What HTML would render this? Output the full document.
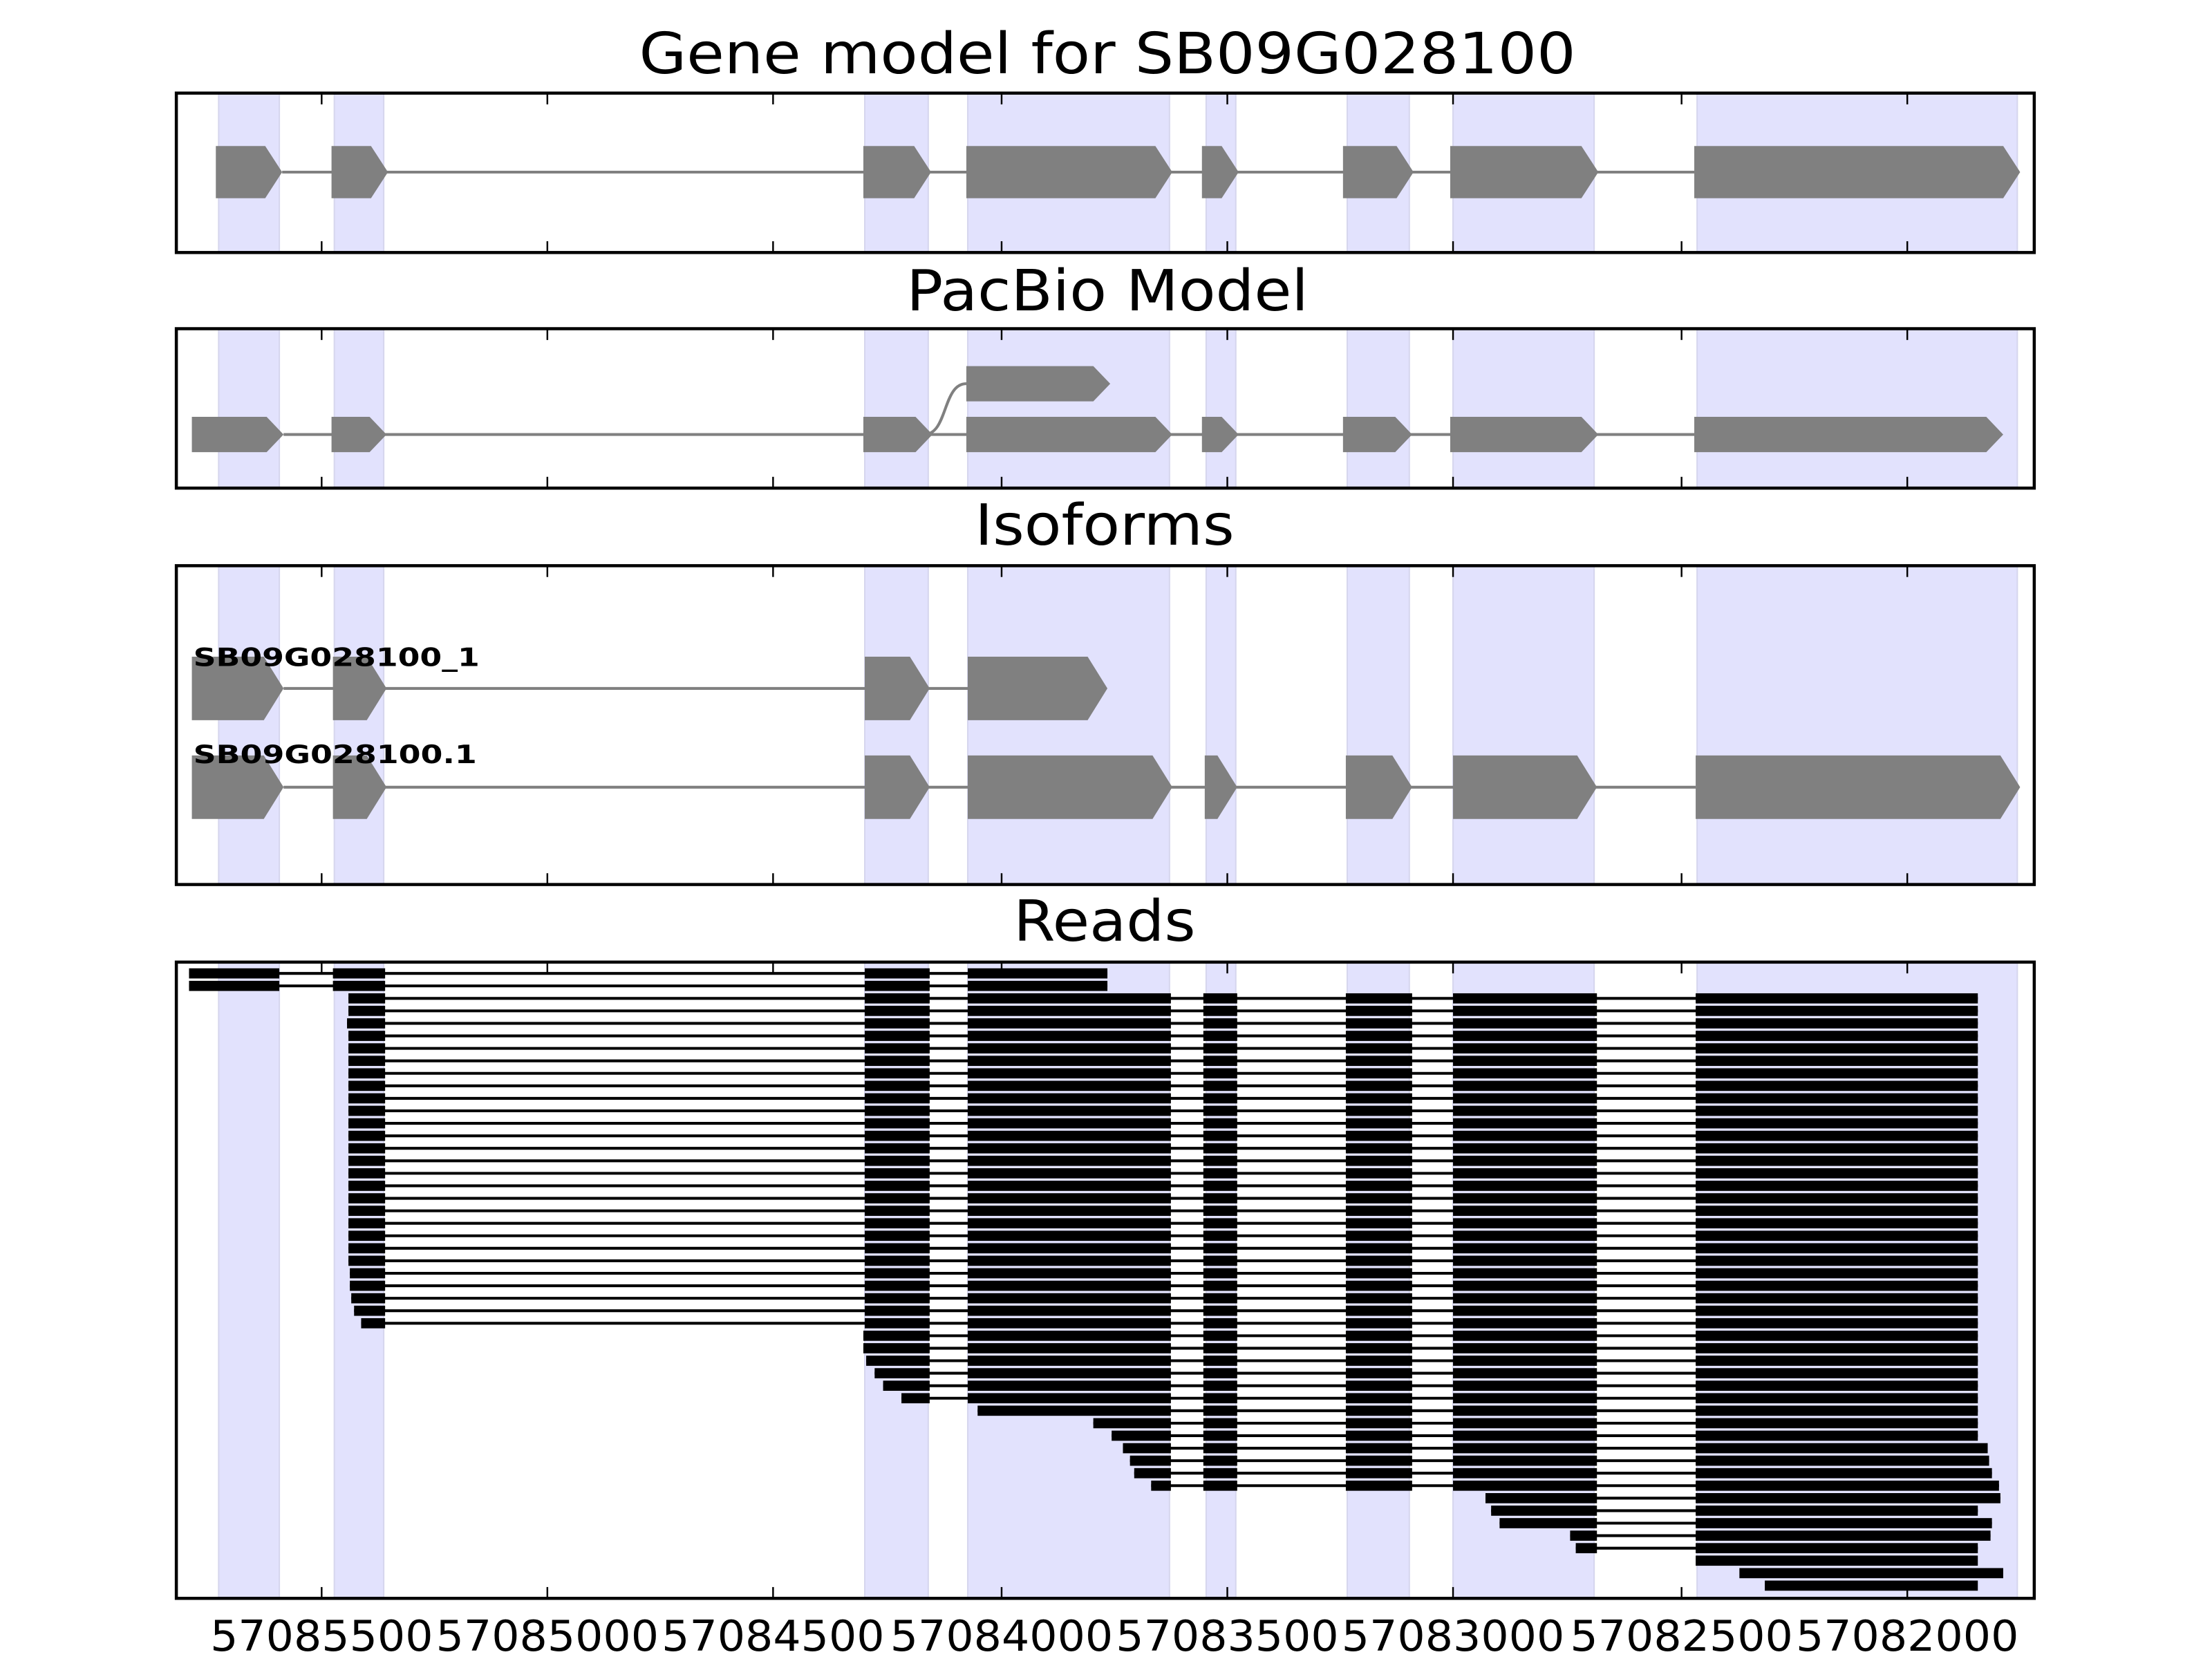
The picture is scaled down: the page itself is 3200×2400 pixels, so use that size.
<!DOCTYPE html>
<html><head><meta charset="utf-8">
<style>html,body{margin:0;padding:0;background:#fff;}svg{display:block;}</style>
</head><body>
<svg id="s" xmlns="http://www.w3.org/2000/svg" width="3200" height="2400" viewBox="0 0 1568 1176" font-family="'DejaVu Sans','Liberation Sans',sans-serif">
<rect width="1568" height="1176" fill="#fff"/>
<g id="g"></g>
<text x="785" y="52" font-size="40" text-anchor="middle" textLength="664" lengthAdjust="spacingAndGlyphs">Gene model for SB09G028100</text>
<text x="785" y="220" font-size="40" text-anchor="middle" textLength="285" lengthAdjust="spacingAndGlyphs">PacBio Model</text>
<text x="783" y="386" font-size="40" text-anchor="middle" textLength="184" lengthAdjust="spacingAndGlyphs">Isoforms</text>
<text x="783" y="667" font-size="40" text-anchor="middle" textLength="129" lengthAdjust="spacingAndGlyphs">Reads</text>
<text x="137" y="472" font-size="18" font-weight="bold" textLength="203" lengthAdjust="spacingAndGlyphs">SB09G028100_1</text>
<text x="137" y="541" font-size="18" font-weight="bold" textLength="201" lengthAdjust="spacingAndGlyphs">SB09G028100.1</text>
</svg>
<script>
var g=document.getElementById('g');var NS='http://www.w3.org/2000/svg';
function el(t,a){var e=document.createElementNS(NS,t);for(var k in a)e.setAttribute(k,a[k]);g.appendChild(e);return e;}
var panels=[[66,179],[233,346],[401,627],[682,1133]];
var bands=[[155,198],[237,272],[613,658],[686,829],[855,876],[955,999],[1030,1130],[1203,1430]];
var ticks=[228,388,548,710,870,1030,1192,1352];
var labels=['57085500','57085000','57084500','57084000','57083500','57083000','57082500','57082000'];
panels.forEach(function(p){
  bands.forEach(function(b){el('rect',{x:b[0],y:p[0],width:b[1]-b[0],height:p[1]-p[0],fill:'#e2e2fd',stroke:'#d6d6ee','stroke-width':1});});
});
function arrow(x1,x2,cy,h,pt){var t=cy-h/2,b=cy+h/2;el('polygon',{points:x1+','+t+' '+(x2-pt)+','+t+' '+x2+','+cy+' '+(x2-pt)+','+b+' '+x1+','+b,fill:'#808080'});}
function model(ex,cy,h,pt){el('line',{x1:ex[0][1],y1:cy,x2:ex[ex.length-1][0],y2:cy,stroke:'#808080','stroke-width':2});ex.forEach(function(e){arrow(e[0],e[1],cy,h,pt);});}
model([[153,200],[235,275],[612,660],[685,831],[852,878],[952,1002],[1028,1133],[1201,1432]],122,37,12);
model([[136,201],[235,274],[612,661],[685,831],[852,878],[952,1001],[1028,1133],[1201,1420]],308,25,12);
el('path',{d:'M655,308 C672,308 668,272 685,272',fill:'none',stroke:'#808080','stroke-width':2});
arrow(685,787,272,25,12);
model([[136,201],[236,274],[613,659],[686,785]],488,45,14);
model([[136,201],[236,274],[613,659],[686,831],[854,877],[954,1001],[1030,1132],[1202,1432]],558,45,14);
var E=[[134,198],[247,273],[613,659],[686,830],[853,877],[954,1001],[1030,1132],[1202,1402]];
var rows=[];
rows.push([[134,198],[236,273],[613,659],[686,785]]);
rows.push([[134,198],[236,273],[613,659],[686,785]]);
function from(ei,start,end){var r=[];for(var i=ei;i<8;i++){r.push([E[i][0],E[i][1]]);}r[0][0]=start;r[r.length-1][1]=end;return r;}
var e2s=[247,247,246,247,247,247,247,247,247,247,247,247,247,247,247,247,247,247,247,247,247,247,248,248,249,251,256];
for(var i=0;i<27;i++)rows.push(from(1,e2s[i],1402));
var e3s=[612,612,614,620,626,639];
for(i=0;i<6;i++)rows.push(from(2,e3s[i],1402));
rows.push(from(3,693,1402));
var e4s=[[775,1402],[788,1402],[796,1409],[801,1410],[804,1412],[816,1417]];
e4s.forEach(function(a){rows.push(from(3,a[0],a[1]));});
var e7s=[[1053,1418],[1057,1402],[1063,1412],[1113,1411],[1117,1402]];
e7s.forEach(function(a){rows.push(from(6,a[0],a[1]));});
rows.push([[1202,1402]]);
rows.push([[1233,1420]]);
rows.push([[1251,1402]]);
rows.forEach(function(r,i){var y=690+i*(434/(rows.length-1));
  if(r.length>1)el('line',{x1:r[0][0],y1:y,x2:r[r.length-1][1],y2:y,stroke:'#000','stroke-width':2});
  r.forEach(function(b){el('rect',{x:b[0],y:y-3.6,width:b[1]-b[0],height:7.2,fill:'#000'});});
});
panels.forEach(function(p){
  ticks.forEach(function(t){el('line',{x1:t,y1:p[1],x2:t,y2:p[1]-8,stroke:'#000','stroke-width':1.2});el('line',{x1:t,y1:p[0],x2:t,y2:p[0]+8,stroke:'#000','stroke-width':1.2});});
  el('rect',{x:125,y:p[0],width:1317,height:p[1]-p[0],fill:'none',stroke:'#000','stroke-width':2.2});
});
ticks.forEach(function(t,i){var tx=el('text',{x:t,y:1170,'font-size':30,'text-anchor':'middle',textLength:158,lengthAdjust:'spacingAndGlyphs'});tx.textContent=labels[i];});
</script>
</body></html>
